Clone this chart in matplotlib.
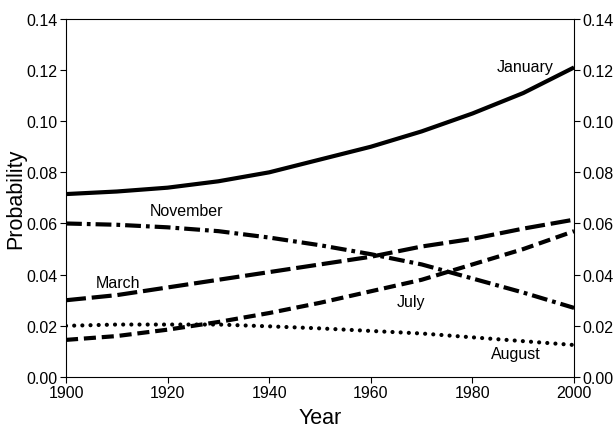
import numpy as np
import matplotlib
matplotlib.use('Agg')
import matplotlib.pyplot as plt

plt.rcParams['font.family'] = ['Liberation Sans', 'DejaVu Sans']

years = [1900, 1910, 1920, 1930, 1940, 1950, 1960, 1970, 1980, 1990, 2000]
january = [0.0715, 0.0725, 0.0740, 0.0765, 0.0800, 0.0850, 0.0900, 0.0960, 0.1030, 0.1110, 0.1210]
november = [0.0600, 0.0595, 0.0585, 0.0570, 0.0545, 0.0515, 0.0480, 0.0440, 0.0385, 0.0330, 0.0270]
march = [0.0300, 0.0320, 0.0350, 0.0380, 0.0410, 0.0440, 0.0470, 0.0510, 0.0540, 0.0580, 0.0615]
july = [0.0145, 0.0160, 0.0185, 0.0215, 0.0250, 0.0290, 0.0335, 0.0380, 0.0440, 0.0500, 0.0570]
august = [0.0200, 0.0205, 0.0205, 0.0205, 0.0198, 0.0190, 0.0180, 0.0170, 0.0155, 0.0140, 0.0125]

labels = [('January', 1990.4, 0.1212), ('November', 1923.8, 0.0649), ('March', 1910.2, 0.0368),
          ('July', 1967.9, 0.0297), ('August', 1988.6, 0.0090)]

fig = plt.figure(figsize=(6.14, 4.31), dpi=100)
ax = fig.add_axes([0.1075, 0.123, 0.8275, 0.831])

lw = 3.0
ax.plot(years, january, color='black', lw=lw, solid_capstyle='butt')
ax.plot(years, november, color='black', lw=lw, dashes=(3.8, 1.2, 0.9, 1.2))
ax.plot(years, march, color='black', lw=lw, dashes=(4.8, 1.4))
ax.plot(years, july, color='black', lw=lw, dashes=(2.9, 1.4))
ax.plot(years, august, color='black', lw=lw, dashes=(0.01, 1.95), dash_capstyle='round')

for name, x, y in labels:
    ax.text(x, y, name, ha='center', va='center', fontsize=11.5)

ax.set_xlim(1900, 2000)
ax.set_ylim(0, 0.14)
ax.set_xticks(range(1900, 2001, 20))
ax.set_yticks(np.arange(0, 0.141, 0.02))
ax.yaxis.set_major_formatter(matplotlib.ticker.FormatStrFormatter('%.2f'))
ax.tick_params(direction='out', length=4, labelsize=11.5, right=True, labelright=True, pad=2)
ax.set_xlabel('Year', fontsize=15.5, labelpad=5)
ax.set_ylabel('Probability', fontsize=15.5, labelpad=0)

fig.savefig('out.png', dpi=100)
